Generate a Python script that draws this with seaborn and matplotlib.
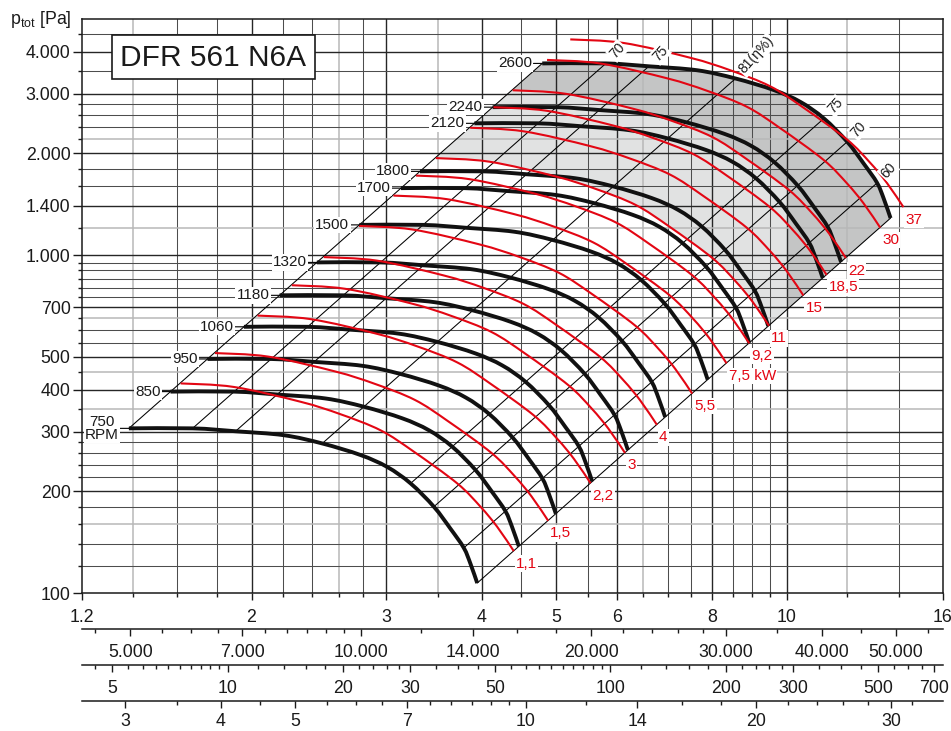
import numpy as np
import matplotlib
matplotlib.use("Agg")
import matplotlib.pyplot as plt
import seaborn as sns
from matplotlib.patches import PathPatch, Rectangle
from matplotlib.path import Path
from matplotlib.ticker import NullFormatter

# fan curve at 750 rpm (flow m3/s, total pressure Pa)
base_rpm = 750
base_q = [1.383, 1.675, 1.906, 2.204, 2.474, 2.776, 3.008, 3.227, 3.461, 3.638, 3.787, 3.864, 3.943]
base_p = [307, 307, 301, 293, 277, 256, 236, 211, 180, 155, 136, 122, 107]
rpm = [750, 850, 950, 1060, 1180, 1320, 1500, 1700, 1800, 2120, 2240, 2600]

# motor power line for 1,1 kW
base_kw = 1.1
power_q = [1.616, 1.897, 2.318, 2.614, 2.948, 3.258, 3.713, 3.982, 4.187, 4.402]
power_p = [417, 407, 368, 338, 303, 262, 211, 180, 157, 133]
kw = [1.1, 1.5, 2.2, 3, 4, 5.5, 7.5, 9.2, 11, 15, 18.5, 22, 30, 37]
kw_labels = ['1,1', '1,5', '2,2', '3', '4', '5,5', '7,5 kW', '9,2', '11', '15', '18,5', '22', '30', '37']

# efficiency lines: point of the fan curve where each one starts
eff_idx = [0, 1, 2, 4, 7, 8, 10, 12]
eff_labels = ['', '70', '75', '81(η%)', '75', '70', '60', '']

# shaded zones: between 11 kW and top curve, darker above 22 kW and beyond 10 m3/s
zone_kw = [11, 22]
zone_q = 10

x_major = [1.2, 2, 3, 4, 5, 6, 8, 10, 16]
x_major_labels = ['1.2', '2', '3', '4', '5', '6', '8', '10', '16']
x_minor = [1.4, 1.6, 1.8, 2.2, 2.4, 2.6, 2.8, 3.5, 4.5, 5.5, 6.5, 7, 7.5, 8.5, 9, 9.5, 12, 14]
x_light = [1.4, 2.6, 3.5, 6.5, 12]
y_major = [100, 200, 300, 400, 500, 700, 1000, 1400, 2000, 3000, 4000]
y_major_labels = ['100', '200', '300', '400', '500', '700', '1.000', '1.400', '2.000', '3.000', '4.000']
y_minor = [120, 140, 160, 180, 220, 240, 260, 280, 350, 450, 550, 600, 650, 750, 800, 850,
           900, 950, 1200, 1600, 1800, 2200, 2400, 2600, 2800, 3500, 4500]
y_light = [160, 350, 450, 650, 1200, 2200]

# extra scales under the chart: m3/h, dynamic pressure Pa, outlet velocity m/s
flow_h_major = [5000, 7000, 10000, 14000, 20000, 30000, 40000, 50000]
flow_h_minor = [4500, 5500, 6000, 6500, 7500, 8000, 8500, 9000, 9500, 12000, 16000, 18000,
                22000, 24000, 26000, 28000, 35000, 45000, 55000]
pd_major = [5, 10, 20, 30, 50, 100, 200, 300, 500, 700]
pd_minor = [4.5, 5.5, 6, 6.5, 7, 7.5, 8, 8.5, 9, 9.5, 12, 14, 16, 18, 22, 24, 26, 28, 35, 40, 45,
            55, 60, 65, 70, 75, 80, 85, 90, 95, 120, 140, 160, 180, 220, 240, 260, 280, 350,
            400, 450, 550, 600, 650]
vel_major = [3, 4, 5, 7, 10, 14, 20, 30]
vel_minor = [3.5, 4.5, 5.5, 6, 6.5, 7.5, 8, 8.5, 9, 9.5, 12, 16, 18, 22, 24, 26, 28, 32]
outlet_area = 0.456
air_density = 1.2

q_lim = (1.2, 16)
p_lim = (100, 5000)

RED = '#e30613'
BLACK = '#111111'
INK = '#1a1a1a'


def fan_curve(n):
    k = n / base_rpm
    return np.array(base_q) * k, np.array(base_p) * k ** 2


def power_curve(P):
    k = (P / base_kw) ** (1 / 3)
    return np.array(power_q) * k, np.array(power_p) * k ** 2


def bezier(q, p):
    # smooth drawing path through the read points (log-log space)
    pts = np.column_stack([np.log10(q), np.log10(p)])
    ext = np.vstack([pts[0], pts, pts[-1]])
    verts = [pts[0]]
    for i in range(len(pts) - 1):
        a, b, c, d = ext[i], ext[i + 1], ext[i + 2], ext[i + 3]
        verts += [b + (c - a) / 6, c - (d - b) / 6, c]
    return np.array(verts)


def curve_path(q, p):
    v = bezier(q, p)
    codes = [Path.MOVETO] + [Path.CURVE4] * (len(v) - 1)
    return Path(10 ** v, codes)


def band_path(q1, p1, q2, p2):
    v1 = bezier(q1, p1)
    v2 = bezier(q2, p2)[::-1]
    verts = np.vstack([v1, v2, v1[:1]])
    codes = ([Path.MOVETO] + [Path.CURVE4] * (len(v1) - 1) + [Path.LINETO]
             + [Path.CURVE4] * (len(v2) - 1) + [Path.CLOSEPOLY])
    return Path(10 ** verts, codes)


def de(v):
    return f"{v:,}".replace(',', '.')


sns.set_theme(style='white')
plt.rcParams['font.family'] = ['Liberation Sans', 'DejaVu Sans']
plt.rcParams['mathtext.default'] = 'regular'

W, H = 951, 731
fig = plt.figure(figsize=(W / 100, H / 100), dpi=100)
L, R = 81.7 / W, 942.9 / W
ax = fig.add_axes([L, (H - 593) / H, R - L, (593 - 18.8) / H])
ax.set_xscale('log')
ax.set_yscale('log')
ax.set_xlim(*q_lim)
ax.set_ylim(*p_lim)
ax.set_facecolor('white')

# grid
for v in x_major[1:-1] + x_minor:
    if v in x_light:
        ax.axvline(v, color='#b8b8b8', lw=1.1, zorder=0.6)
    elif v in x_major:
        ax.axvline(v, color='#262626', lw=1.0, zorder=0.6)
    else:
        ax.axvline(v, color='#4d4d4d', lw=0.75, zorder=0.6)
for v in y_major[1:] + y_minor:
    if v in y_light:
        ax.axhline(v, color='#b8b8b8', lw=1.1, zorder=0.6)
    elif v in y_major:
        ax.axhline(v, color='#262626', lw=1.0, zorder=0.6)
    else:
        ax.axhline(v, color='#4d4d4d', lw=0.75, zorder=0.6)

# shaded zones
q_top, p_top = fan_curve(rpm[-1])
q_lo, p_lo = power_curve(zone_kw[0])
q_hi, p_hi = power_curve(zone_kw[1])
ax.add_patch(PathPatch(band_path(q_lo, p_lo, q_top, p_top), fc='#e1e2e2', ec='none', zorder=0.3))
ax.add_patch(PathPatch(band_path(q_hi, p_hi, q_top, p_top), fc='#c4c5c5', ec='none', zorder=0.35))
dark_right = PathPatch(band_path(q_lo, p_lo, q_top, p_top), fc='#c4c5c5', ec='none', zorder=0.35)
ax.add_patch(dark_right)
dark_right.set_clip_path(Rectangle((zone_q, 1), 1000, 1e6, transform=ax.transData))

# efficiency lines
k_top = rpm[-1] / base_rpm
for i in eff_idx:
    sns.lineplot(x=[base_q[i], base_q[i] * k_top], y=[base_p[i], base_p[i] * k_top ** 2],
                 ax=ax, color='black', lw=0.75, zorder=1.5, estimator=None, sort=False)

# fan curves
for n in rpm:
    q, p = fan_curve(n)
    ax.add_patch(PathPatch(curve_path(q, p), fc='none', ec=BLACK, lw=2.8, zorder=2.5,
                           capstyle='butt', joinstyle='round'))
    label = '750\nRPM' if n == base_rpm else str(n)
    ax.annotate(label, xy=(q[0], p[0]), xytext=(-10, 0), textcoords='offset pixels',
                ha='right', va='center', ma='center', fontsize=11, color=INK,
                linespacing=0.95,
                bbox=dict(boxstyle='square,pad=0.08', fc='white', ec='none'),
                arrowprops=dict(arrowstyle='-', lw=0.8, color='black', shrinkA=0, shrinkB=0),
                zorder=6)

# motor power lines
for P, lab in zip(kw, kw_labels):
    q, p = power_curve(P)
    ax.add_patch(PathPatch(curve_path(q, p), fc='none', ec=RED, lw=1.5, zorder=3,
                           capstyle='butt', joinstyle='round'))
    ax.annotate(lab, xy=(q[-1], p[-1]), xytext=(2, -12.5), textcoords='offset pixels',
                ha='left', va='center', fontsize=11, color=RED,
                bbox=dict(boxstyle='square,pad=0.08', fc='white', ec='none'), zorder=6)

# efficiency labels at the top curve
for i, lab in zip(eff_idx, eff_labels):
    if not lab:
        continue
    ax.annotate(lab, xy=(base_q[i] * k_top, base_p[i] * k_top ** 2), xytext=(6, 6.7),
                textcoords='offset pixels', ha='left', va='center', rotation=48,
                rotation_mode='anchor', fontsize=10, color=INK,
                bbox=dict(boxstyle='square,pad=0.08', fc='white', ec='none'), zorder=6)

ax.set_xticks(x_major, x_major_labels)
ax.set_xticks(x_minor, minor=True)
ax.set_yticks(y_major, y_major_labels)
ax.set_yticks(y_minor, minor=True)
ax.xaxis.set_minor_formatter(NullFormatter())
ax.yaxis.set_minor_formatter(NullFormatter())
ax.tick_params(axis='both', which='both', direction='out', colors=INK,
               labelsize=12.8, width=1.0, bottom=True, left=True, top=False, right=False)
ax.tick_params(axis='y', which='major', length=6.5, pad=1.5)
ax.tick_params(axis='y', which='minor', length=3.1)
ax.tick_params(axis='x', which='major', length=5.2, pad=6.3)
ax.tick_params(axis='x', which='minor', length=2.9)
for s in ax.spines.values():
    s.set_color(INK)
    s.set_linewidth(1.1)
ax.set_xlabel('')
ax.set_ylabel('')


def scale_axis(y_px, lo, hi, major, labels, minor, pad=5.8):
    sa = fig.add_axes([L, 1 - y_px / H, R - L, 1e-4])
    sa.set_xscale('log')
    sa.set_xlim(lo, hi)
    for s in ['left', 'right', 'top']:
        sa.spines[s].set_visible(False)
    sa.spines['bottom'].set_linewidth(1.1)
    sa.spines['bottom'].set_color(INK)
    sa.set_yticks([])
    sa.set_xticks(major, labels)
    sa.set_xticks(minor, minor=True)
    sa.xaxis.set_minor_formatter(NullFormatter())
    sa.tick_params(axis='x', which='both', direction='out', colors=INK,
                   labelsize=12.8, width=1.0, bottom=True, top=False)
    sa.tick_params(axis='x', which='major', length=5.2, pad=pad)
    sa.tick_params(axis='x', which='minor', length=2.9)
    sa.patch.set_visible(False)
    return sa


v_lo, v_hi = q_lim[0] / outlet_area, q_lim[1] / outlet_area
scale_axis(629, q_lim[0] * 3600, q_lim[1] * 3600, flow_h_major,
           [de(v) for v in flow_h_major], flow_h_minor)
scale_axis(665, 0.5 * air_density * v_lo ** 2, 0.5 * air_density * v_hi ** 2, pd_major,
           [str(v) for v in pd_major], pd_minor)
scale_axis(701, v_lo, v_hi, vel_major, [str(v) for v in vel_major], vel_minor, pad=3.2)

# model box and axis title
fig.add_artist(Rectangle((112 / W, 1 - 79 / H), 203 / W, 44 / H, transform=fig.transFigure,
                         fc='white', ec=INK, lw=1.2, zorder=5))
fig.text(213.5 / W, 1 - 57.5 / H, 'DFR 561 N6A', ha='center', va='center', fontsize=21.5,
         color=INK, zorder=6)
fig.text(10 / W, 1 - 20 / H, r'p$_{\mathregular{tot}}$ [Pa]', ha='left', va='center',
         fontsize=12.8, color=INK)

fig.savefig('out.png', dpi=100)
